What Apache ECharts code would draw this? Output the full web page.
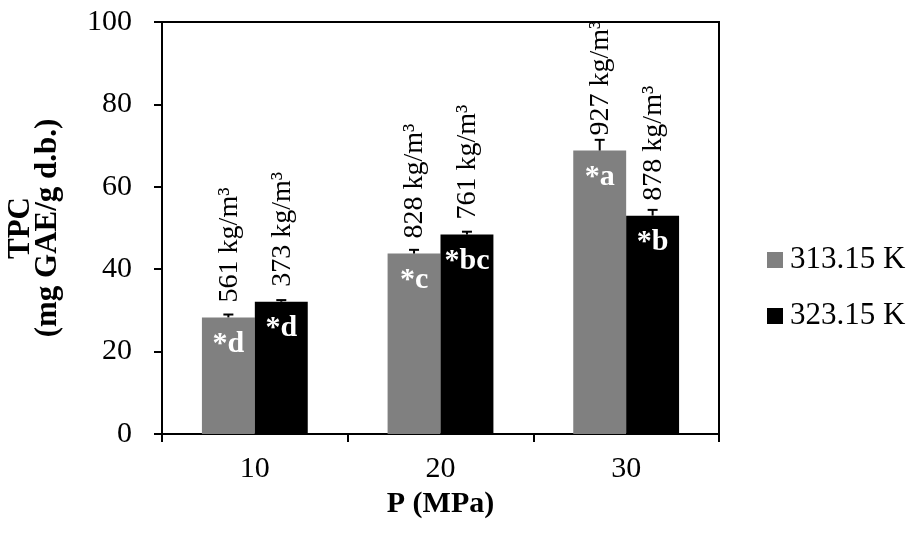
<!DOCTYPE html>
<html>
<head>
<meta charset="utf-8">
<script src="https://cdn.jsdelivr.net/npm/echarts@6/dist/echarts.min.js"></script>
<style>
html,body{margin:0;padding:0;background:#fff;}
#chart{width:908px;height:533px;}
</style>
</head>
<body>
<div id="chart"></div>
<script>
const categories = ['10', '20', '30'];
const seriesNames = ['313.15 K', '323.15 K'];
const values313 = [28.3, 43.8, 68.8];
const values323 = [32.1, 48.4, 53.0];
const err313 = [0.7, 0.9, 2.6];
const err323 = [0.4, 0.7, 1.4];
const density313 = ['561', '828', '927'];
const density323 = ['373', '761', '878'];
const letters313 = ['*d', '*c', '*a'];
const letters323 = ['*d', '*bc', '*b'];
const yMin = 0, yMax = 100, yInterval = 20;

const FONT = '"Liberation Serif", "Times New Roman", serif';
const GAP = 0.43;

function errSeries(vals, errs, dens, side) {
  return {
    type: 'custom',
    silent: true,
    z: 5,
    data: vals.map((v, i) => [i, v, errs[i], dens[i]]),
    renderItem: function (params, api) {
      const idx = api.value(0);
      const v = api.value(1);
      const e = api.value(2);
      const catW = api.size([1, 0])[0];
      const barW = catW * (1 - GAP) / 2;
      const base = api.coord([idx, v]);
      const top = api.coord([idx, v + e]);
      const x = base[0] + side * barW / 2;
      const cap = 5;
      return {
        type: 'group',
        children: [
          { type: 'line', shape: { x1: x, y1: base[1], x2: x, y2: top[1] }, style: { stroke: '#000', lineWidth: 2 } },
          { type: 'line', shape: { x1: x - cap, y1: top[1], x2: x + cap, y2: top[1] }, style: { stroke: '#000', lineWidth: 2 } },
          {
            type: 'text', x: x + 1, y: base[1] - 15, rotation: Math.PI / 2,
            style: {
              text: api.value(3) + ' kg/m\u00B3',
              font: '28px ' + FONT,
              fill: '#000',
              textAlign: 'left',
              textVerticalAlign: 'middle'
            }
          }
        ]
      };
    }
  };
}

const chart = echarts.init(document.getElementById('chart'));
chart.setOption({
  animation: false,
  backgroundColor: '#fff',
  textStyle: { fontFamily: FONT },
  grid: { left: 162, right: 189, top: 22, bottom: 99, containLabel: false, outerBoundsMode: 'none', show: true, borderColor: '#000', borderWidth: 2, backgroundColor: 'transparent' },
  legend: {
    data: seriesNames,
    orient: 'vertical',
    left: 762,
    top: 239,
    icon: 'rect',
    itemWidth: 16,
    itemHeight: 16,
    itemGap: 24,
    textStyle: { fontFamily: FONT, fontSize: 31, color: '#000', lineHeight: 32, padding: [0, 0, 0, 2] }
  },
  xAxis: {
    type: 'category',
    data: categories,
    name: 'P (MPa)',
    nameLocation: 'middle',
    nameGap: 54,
    nameTextStyle: { fontFamily: FONT, fontSize: 30, fontWeight: 'bold', color: '#000' },
    axisLine: { lineStyle: { color: '#000', width: 2 } },
    axisTick: { show: true, length: 8, lineStyle: { color: '#000', width: 2 } },
    axisLabel: { fontFamily: FONT, fontSize: 30, color: '#000', margin: 20 },
    splitLine: { show: false }
  },
  yAxis: {
    type: 'value',
    min: yMin,
    max: yMax,
    interval: yInterval,
    name: 'TPC\n(mg GAE/g d.b.)',
    nameLocation: 'middle',
    nameRotate: 90,
    nameGap: 101,
    nameTextStyle: { fontFamily: FONT, fontSize: 31, fontWeight: 'bold', color: '#000', lineHeight: 27, align: 'center' },
    axisLine: { show: true, lineStyle: { color: '#000', width: 2 } },
    axisTick: { show: true, length: 8, lineStyle: { color: '#000', width: 2 } },
    axisLabel: { fontFamily: FONT, fontSize: 30, color: '#000', margin: 30 },
    splitLine: { show: false }
  },
  series: [
    {
      name: seriesNames[0], type: 'bar', data: values313, barGap: 0, barCategoryGap: (GAP * 100) + '%',
      itemStyle: { color: '#808080' },
      label: { show: true, position: 'insideTop', distance: 12, formatter: p => letters313[p.dataIndex], color: '#fff', fontFamily: FONT, fontWeight: 'bold', fontSize: 30 }
    },
    {
      name: seriesNames[1], type: 'bar', data: values323, barGap: 0, barCategoryGap: (GAP * 100) + '%',
      itemStyle: { color: '#000000' },
      label: { show: true, position: 'insideTop', distance: 12, formatter: p => letters323[p.dataIndex], color: '#fff', fontFamily: FONT, fontWeight: 'bold', fontSize: 30 }
    },
    errSeries(values313, err313, density313, -1),
    errSeries(values323, err323, density323, 1)
  ]
});
</script>
</body>
</html>
